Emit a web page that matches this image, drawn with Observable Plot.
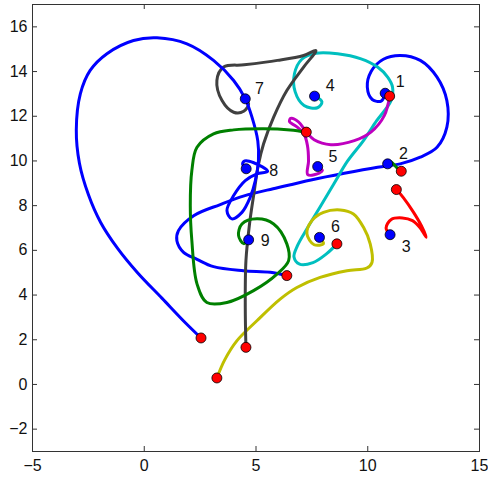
<!DOCTYPE html>
<html><head><meta charset="utf-8">
<script src="https://cdn.jsdelivr.net/npm/d3@7"></script>
<script src="https://cdn.jsdelivr.net/npm/@observablehq/plot@0.6"></script>
<style>body{margin:0;background:#fff}</style>
</head><body><div id="chart"></div>
<script>
const path1 = [[10.78,13.03],[10.6,12.68],[10.2,12.75],[9.98,13.3],[10.15,14.0],[10.7,14.55],[11.45,14.72],[12.35,14.5],[13.1,13.75],[13.54,12.7],[13.54,11.51],[13.1,10.61],[12.35,10.17],[11.45,9.87],[10.44,9.72],[8.95,9.45],[7.46,9.15],[5.96,8.8],[4.47,8.44],[3.4,8.05],[2.21,7.55],[1.53,6.88],[1.46,6.43],[1.76,5.91],[2.36,5.6],[3.1,5.27],[4.44,5.09],[5.64,5.02],[6.38,4.87]];
const path2 = [[10.89,9.87],[10.85,10.0],[11.05,9.95],[11.3,9.7],[11.5,9.54]];
const path3 = [[11.0,6.7],[10.82,7.0],[11.05,7.38],[11.55,7.45],[12.0,7.33],[12.35,7.0],[12.62,6.58],[12.4,7.1],[12.05,7.7],[11.6,8.35],[11.28,8.72]];
const path4 = [[7.62,12.9],[7.95,12.65],[7.75,12.38],[7.15,12.48],[6.75,13.1],[6.72,13.9],[7.05,14.55],[7.68,14.82],[8.65,14.8],[9.7,14.57],[10.44,14.2],[10.89,13.75],[11.11,13.3],[11.04,12.7],[10.4,11.8],[9.8,10.9],[9.1,10.0],[8.5,9.0],[7.9,8.0],[7.3,7.0],[6.85,6.2],[6.7,5.7],[6.95,5.38],[7.55,5.45],[8.15,5.84],[8.62,6.29]];
const path5 = [[7.76,9.75],[7.97,9.57],[7.6,9.38],[7.31,9.39],[7.35,10.0],[7.3,10.7],[7.15,11.2],[6.8,11.55],[6.5,11.75],[6.55,11.9],[6.9,11.75],[7.25,11.3],[7.6,10.95],[8.35,10.73],[9.4,10.91],[10.14,11.29],[10.74,12.03],[10.98,12.9]];
const path6 = [[7.84,6.58],[8.02,6.3],[7.6,6.25],[7.28,6.74],[7.5,7.33],[8.02,7.7],[8.77,7.81],[9.36,7.63],[9.81,7.03],[10.11,6.29],[10.19,5.46],[9.96,5.21],[9.07,5.09],[7.87,4.79],[6.83,4.34],[6.08,3.82],[5.04,2.85],[4.15,1.96],[3.6,1.1],[3.25,0.29]];
const path7 = [[4.52,12.78],[4.67,12.55],[4.45,12.22],[4.0,12.18],[3.48,12.7],[3.25,13.6],[3.55,14.2],[4.47,14.3],[5.96,14.5],[7.13,14.72],[7.68,14.94],[7.13,14.2],[6.38,13.15],[5.79,11.96],[5.34,10.77],[5.1,9.8],[4.9,8.5],[4.71,7.18],[4.55,5.54],[4.52,3.45],[4.55,1.66]];
const path8 = [[4.56,9.65],[4.4,9.85],[4.5,10.0],[4.9,9.92],[5.52,9.54],[5.04,9.42],[4.52,9.12],[4.0,8.45],[3.7,7.78],[3.92,7.41],[4.37,7.7],[4.74,8.37],[4.97,9.12],[5.11,10.02],[5.08,10.9],[4.82,11.96],[4.52,12.78],[4.0,13.6],[3.1,14.5],[1.91,15.24],[0.57,15.51],[-0.48,15.39],[-1.67,14.8],[-2.42,14.05],[-2.86,13.0],[-3.04,11.4],[-2.9,9.9],[-2.5,8.5],[-1.95,7.25],[-1.2,6.1],[-0.3,5.0],[0.8,3.85],[1.85,2.75],[2.54,2.08]];
const path9 = [[4.67,6.47],[4.45,6.3],[4.22,6.66],[4.37,7.18],[5.04,7.41],[5.79,7.18],[6.38,6.29],[6.46,5.54],[5.94,4.94],[4.89,4.2],[3.7,3.67],[2.8,3.67],[2.36,4.5],[2.13,6.43],[2.06,8.0],[2.13,9.57],[2.36,10.61],[3.1,11.21],[4.0,11.39],[5.34,11.44],[6.53,11.39],[7.25,11.29]];

const paths = [path1, path2, path3, path4, path5, path6, path7, path8, path9];
const colors = ["#0000ff","#008000","#ff0000","#00bfbf","#bf00bf","#bfbf00","#404040","#0000ff","#008000"];
const labelNames = ["1","2","3","4","5","6","7","8","9"];
const labelX = [11.45,11.6,11.72,8.32,8.44,8.55,5.15,5.79,5.41];
const labelY = [13.53,10.32,6.17,13.38,10.2,7.03,13.23,9.57,6.44];
const xTicks = [-5,0,5,10,15];
const yTicks = [-2,0,2,4,6,8,10,12,14,16];

const W = 488, H = 478, mL = 32, mR = 9, mT = 4, mB = 27;
const iW = W - mL - mR, iH = H - mT - mB;

const starts = paths.map(p => ({x: p[0][0], y: p[0][1]}));
const ends = paths.map(p => ({x: p[p.length-1][0], y: p[p.length-1][1]}));
const labels = labelNames.map((t,i) => ({t, x: labelX[i], y: labelY[i]}));

const marks = [];
paths.forEach((p,i) => {
  marks.push(Plot.line(p, {x: d => d[0], y: d => d[1], stroke: colors[i], strokeWidth: 3, curve: "catmull-rom", strokeLinecap: "round", strokeLinejoin: "round"}));
});
marks.push(
  Plot.dot(starts, {x: "x", y: "y", r: 5, fill: "#0000ff", stroke: "#000", strokeWidth: 0.8}),
  Plot.dot(ends, {x: "x", y: "y", r: 5, fill: "#ff0000", stroke: "#000", strokeWidth: 0.8}),
  Plot.text(labels, {x: "x", y: "y", text: "t", fontSize: 16, fill: "#111"}),
  Plot.tickX(xTicks, {x: d => d, insetTop: iH - 5, stroke: "#333"}),
  Plot.tickX(xTicks, {x: d => d, insetBottom: iH - 5, stroke: "#333"}),
  Plot.tickY(yTicks, {y: d => d, insetRight: iW - 5, stroke: "#333"}),
  Plot.tickY(yTicks, {y: d => d, insetLeft: iW - 5, stroke: "#333"}),
  Plot.frame({stroke: "#333", strokeWidth: 1}),
  Plot.axisX(xTicks, {tickSize: 0, tickPadding: 8, fontSize: 16, fill: "#111", label: null}),
  Plot.axisY(yTicks, {tickSize: 0, tickPadding: 5, fontSize: 16, fill: "#111", label: null})
);

const chart = Plot.plot({
  width: W, height: H,
  marginLeft: mL, marginRight: mR, marginTop: mT, marginBottom: mB,
  style: {fontFamily: "'Liberation Sans', Arial, sans-serif", fontSize: "16px", background: "#fff"},
  x: {domain: [-5, 15], label: null},
  y: {domain: [-3, 17], label: null},
  marks
});
document.getElementById("chart").appendChild(chart);
</script>
</body></html>
